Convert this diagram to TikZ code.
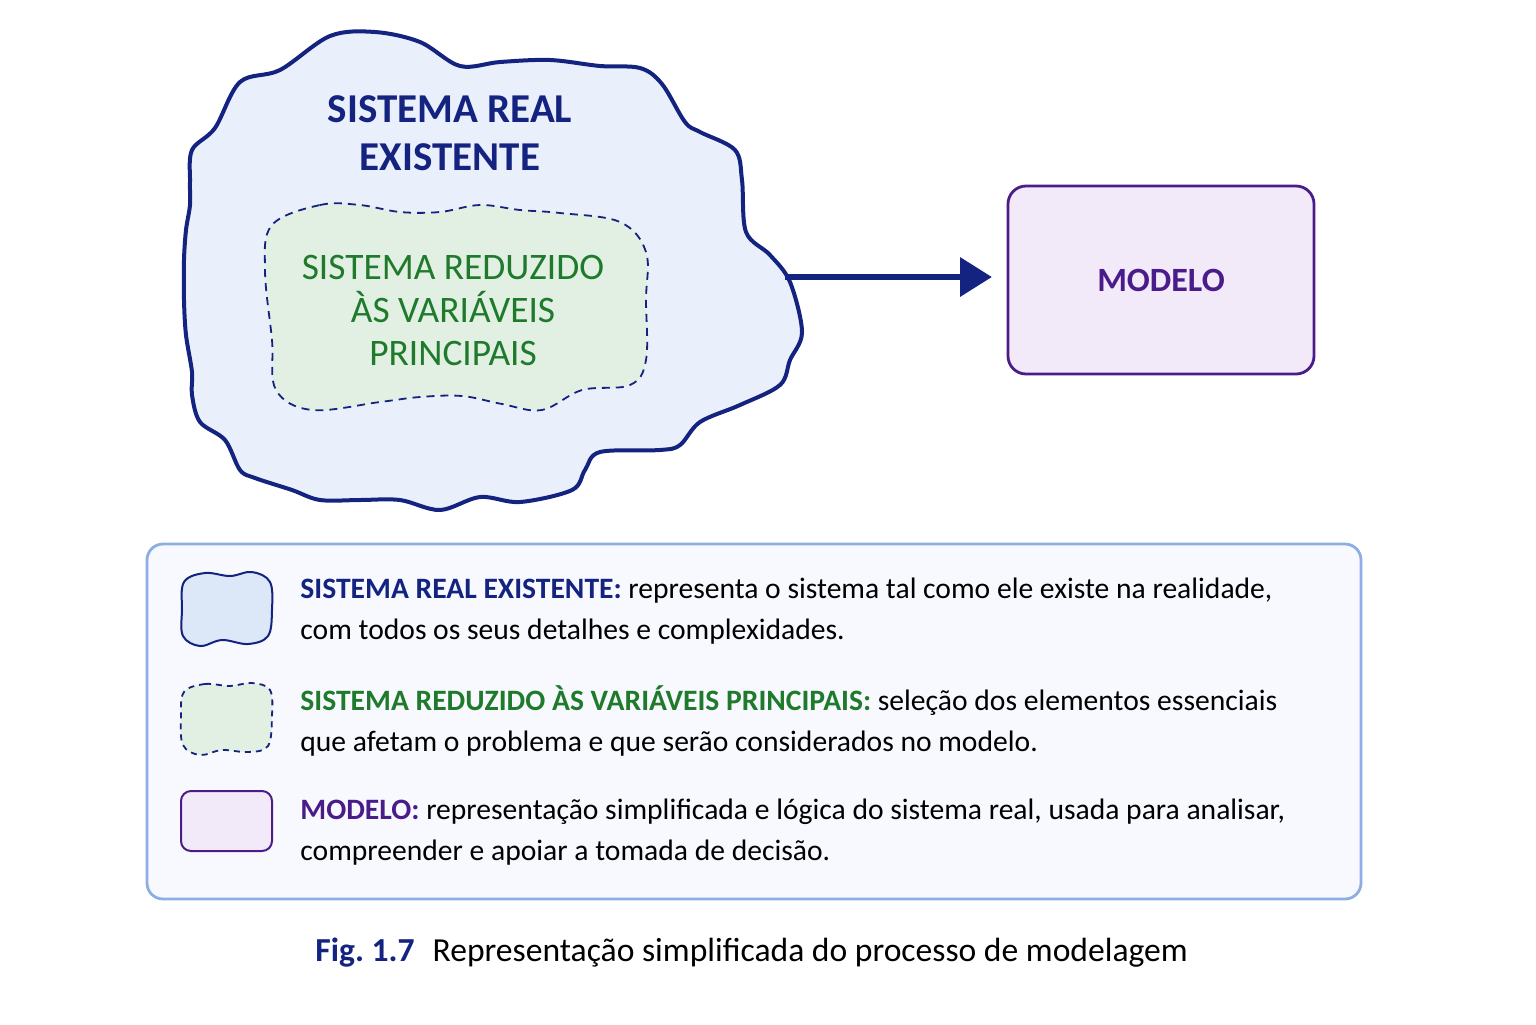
\documentclass[tikz,border=0pt]{standalone}
\usepackage{fontspec}
\setmainfont{Carlito}
\usetikzlibrary{arrows.meta}
\definecolor{navy}{HTML}{13237F}
\definecolor{grn}{HTML}{1F7A2C}
\definecolor{purp}{HTML}{4A1C8A}
\definecolor{cloudfill}{HTML}{EAF0FB}
\definecolor{iconfill}{HTML}{DCE8F8}
\definecolor{redfill}{HTML}{E2EFE3}
\definecolor{modfill}{HTML}{F2EAF9}
\definecolor{legline}{HTML}{8CAEE2}
\definecolor{legfill}{HTML}{F7F9FE}
\tikzset{
  cloudline/.style={draw=navy,line width=2pt,fill=cloudfill},
  redline/.style={draw=navy,line width=0.9pt,dash pattern=on 4pt off 3pt,fill=redfill},
  modbox/.style={draw=purp,line width=1.4pt,fill=modfill,rounded corners=9pt},
  legtext/.style={anchor=north west,inner sep=0pt,align=left,font=\fontsize{14.8}{20.5}\selectfont}
}
\begin{document}
\begin{tikzpicture}[x=0.5pt,y=0.5pt,yscale=-1]
\useasboundingbox (0,0) rectangle (1536,1024);

% real system cloud
\draw[cloudline] plot[smooth cycle,tension=0.55] coordinates {(192,150) (215,128) (240,82) (280,70) (330,36) (375,32) (420,42) (460,66) (500,62) (550,60) (600,66) (640,68) (662,84) (685,122) (700,132) (735,150) (742,180) (746,232) (770,255) (790,282) (802,332) (790,360) (780,385) (740,405) (700,422) (680,445) (660,450) (600,452) (585,470) (572,490) (520,502) (480,497) (440,510) (400,500) (360,500) (320,500) (292,490) (255,478) (240,470) (225,440) (200,422) (192,395) (192,372) (186,335) (184,300) (184,260) (186,230) (190,205) (190,182)};
% reduced system
\draw[redline] plot[smooth cycle,tension=0.6] coordinates {(272,225) (320,205) (360,205) (400,212) (440,212) (480,205) (520,210) (560,213) (620,222) (646,252) (646,300) (646,360) (630,385) (582,390) (542,410) (502,404) (462,396) (420,397) (380,402) (312,410) (276,390) (272,340) (265,270)};

\node[text=navy,font=\bfseries\fontsize{20.5}{24}\selectfont,align=center] (real) at (450,133) {SISTEMA REAL\\EXISTENTE};
\node[text=grn,font=\fontsize{18.7}{21.5}\selectfont,align=center] (reduced) at (453,310) {SISTEMA REDUZIDO\\ÀS VARIÁVEIS\\PRINCIPAIS};

% model
\draw[modbox] (1008,186) rectangle (1314,374);
\node[text=purp,font=\bfseries\fontsize{17}{20}\selectfont] (model) at (1161,280) {MODELO};
\coordinate (cloudedge) at (785,277);
\coordinate (modeledge) at (992,277);
\draw[navy,line width=3.4pt,-{Triangle[length=16pt,width=19pt]}] (cloudedge) -- (modeledge);

% legend
\draw[draw=legline,line width=1.4pt,fill=legfill,rounded corners=8pt] (147,544) rectangle (1361,899);
\draw[cloudline,line width=1pt,fill=iconfill] plot[smooth cycle,tension=0.6] coordinates {(184,582) (205,573) (230,576) (252,572) (270,582) (272,610) (268,636) (248,644) (222,640) (200,646) (183,636) (182,610)};
\draw[redline,dash pattern=on 3pt off 2.5pt] plot[smooth cycle,tension=0.6] coordinates {(184,692) (205,684) (230,686) (252,683) (270,690) (272,716) (268,746) (248,752) (222,750) (200,755) (183,745) (181,716)};
\draw[modbox,line width=1pt,rounded corners=5pt] (181,791) rectangle (272,851);

\node[legtext] (leg1) at (300,578) {\textcolor{navy}{\bfseries SISTEMA REAL EXISTENTE:} representa o sistema tal como ele existe na realidade,\\com todos os seus detalhes e complexidades.};
\node[legtext] (leg2) at (300,685) {\textcolor{grn}{\bfseries SISTEMA REDUZIDO ÀS VARIÁVEIS PRINCIPAIS:} seleção dos elementos essenciais\\que afetam o problema e que serão considerados no modelo.};
\node[legtext] (leg3) at (300,799) {\textcolor{purp}{\bfseries MODELO:} representação simplificada e lógica do sistema real, usada para analisar,\\compreender e apoiar a tomada de decisão.};

% caption
\node[anchor=west,inner sep=0pt,font=\fontsize{16.8}{20}\selectfont] (caption) at (315,953) {\textcolor{navy}{\bfseries Fig.\ 1.7}\hspace{9pt}Representação simplificada do processo de modelagem};
\end{tikzpicture}
\end{document}
